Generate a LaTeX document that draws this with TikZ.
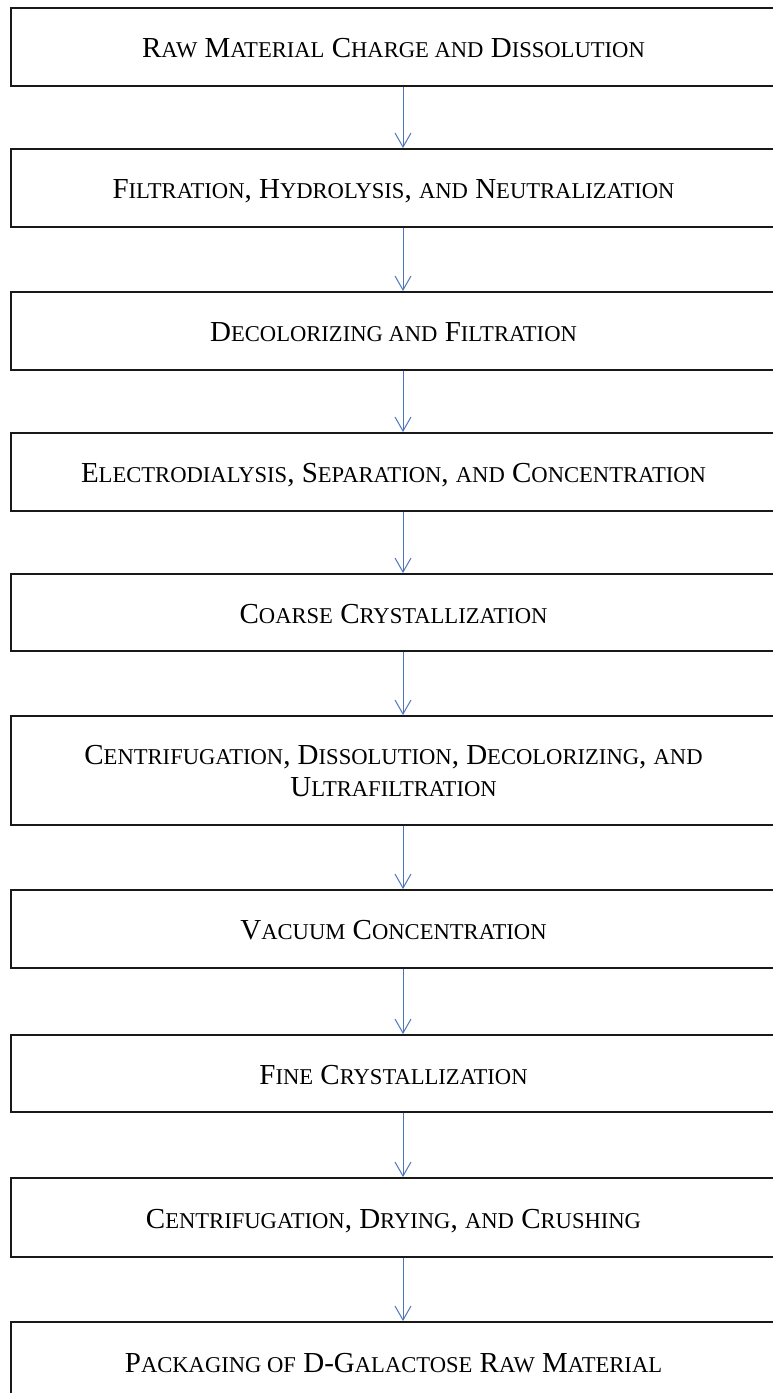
\documentclass[tikz,border=0pt]{standalone}
\usepackage{fontspec}
\setmainfont{Liberation Serif}
\usetikzlibrary{arrows.meta}
\definecolor{arrowblue}{RGB}{76,116,188}
\newcommand\fs{\fontsize{29}{32}\selectfont}
\newcommand\sm[1]{{\fontsize{22.6}{32}\selectfont #1}}
\tikzset{
  box/.style={draw=black!90, line width=1.6pt, minimum width=765pt, inner sep=0pt, anchor=north},
  lbl/.style={font=\fs, align=center, inner sep=0pt, text height=20pt, text depth=0pt},
  lbltwo/.style={font=\fs, align=center, inner sep=0pt},
  flow/.style={draw=arrowblue, line width=1pt, -{Straight Barb[length=14pt,width=16pt,line width=1pt]}}
}
\begin{document}
\begin{tikzpicture}[x=1pt,y=-1pt]
\useasboundingbox (0,0) rectangle (772,1393);
\node[box, minimum height=78pt]  (b1)  at (393.5,7)    {};
\node[box, minimum height=78pt]  (b2)  at (393.5,148)  {};
\node[box, minimum height=78pt]  (b3)  at (393.5,291)  {};
\node[box, minimum height=78pt]  (b4)  at (393.5,432)  {};
\node[box, minimum height=77pt]  (b5)  at (393.5,573)  {};
\node[box, minimum height=109pt] (b6)  at (393.5,715)  {};
\node[box, minimum height=78pt]  (b7)  at (393.5,889)  {};
\node[box, minimum height=77pt]  (b8)  at (393.5,1034) {};
\node[box, minimum height=79pt]  (b9)  at (393.5,1177) {};
\node[box, minimum height=79pt]  (b10) at (393.5,1321) {};

\node[lbl] (t1) at ([yshift=-1pt]b1.center) {R\sm{AW} M\sm{ATERIAL} C\sm{HARGE AND} D\sm{ISSOLUTION}};
\node[lbl] (t2) at ([yshift=-1pt]b2.center) {F\sm{ILTRATION}, H\sm{YDROLYSIS}, \sm{AND} N\sm{EUTRALIZATION}};
\node[lbl] (t3) at ([yshift=-1pt]b3.center) {D\sm{ECOLORIZING AND} F\sm{ILTRATION}};
\node[lbl] (t4) at ([yshift=-1pt]b4.center) {E\sm{LECTRODIALYSIS}, S\sm{EPARATION}, \sm{AND} C\sm{ONCENTRATION}};
\node[lbl] (t5) at ([yshift=-1pt]b5.center) {C\sm{OARSE} C\sm{RYSTALLIZATION}};
\node[lbltwo] (t6) at ([yshift=-1pt]b6.center) {C\sm{ENTRIFUGATION}, D\sm{ISSOLUTION}, D\sm{ECOLORIZING}, \sm{AND}\\U\sm{LTRAFILTRATION}};
\node[lbl] (t7) at ([yshift=-1pt]b7.center) {V\sm{ACUUM} C\sm{ONCENTRATION}};
\node[lbl] (t8) at ([yshift=-1pt]b8.center) {F\sm{INE} C\sm{RYSTALLIZATION}};
\node[lbl] (t9) at ([yshift=-1pt]b9.center) {C\sm{ENTRIFUGATION}, D\sm{RYING}, \sm{AND} C\sm{RUSHING}};
\node[lbl] (t10) at ([yshift=-1pt]b10.center) {P\sm{ACKAGING OF} D-G\sm{ALACTOSE} R\sm{AW} M\sm{ATERIAL}};

\foreach \a/\b in {b1/b2,b2/b3,b3/b4,b4/b5,b5/b6,b6/b7,b7/b8,b8/b9,b9/b10}
  \draw[flow] ([xshift=9.5pt]\a.south) -- ([xshift=9.5pt]\b.north);
\end{tikzpicture}
\end{document}
